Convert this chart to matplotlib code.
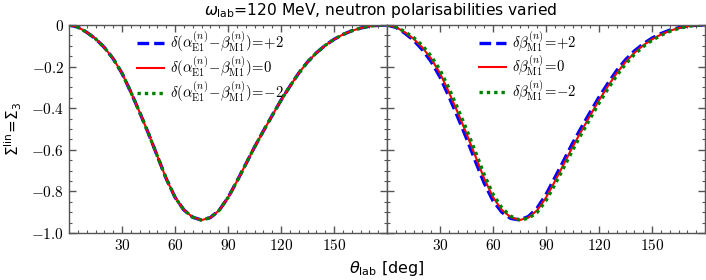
import numpy as np
import matplotlib
matplotlib.use("Agg")
from matplotlib import pyplot as plt
from matplotlib.ticker import MultipleLocator

# Sigma_3 vs theta_lab, omega_lab = 120 MeV
theta = [0, 5, 10, 15, 20, 25, 30, 35, 40, 45, 50, 55, 60, 65, 70, 75, 80, 85, 90,
         95, 100, 105, 110, 115, 120, 125, 130, 135, 140, 145, 150, 155, 160, 165,
         170, 175, 180]

sigma_zero = [0, -0.010, -0.035, -0.066, -0.108, -0.162, -0.232, -0.322, -0.420, -0.522,
              -0.630, -0.738, -0.828, -0.889, -0.924, -0.938, -0.926, -0.891, -0.830,
              -0.752, -0.670, -0.587, -0.510, -0.435, -0.362, -0.295, -0.232, -0.178,
              -0.134, -0.098, -0.069, -0.046, -0.028, -0.015, -0.006, -0.0015, 0]

# left panel: delta(alpha-beta) = +2 / 0 / -2  (indistinguishable)
left_plus2 = sigma_zero
left_zero = sigma_zero
left_minus2 = sigma_zero

# right panel: delta beta = +2 / 0 / -2
right_plus2 = [0, -0.0114, -0.039, -0.073, -0.119, -0.176, -0.250, -0.343, -0.442, -0.545,
               -0.654, -0.760, -0.845, -0.900, -0.930, -0.937, -0.921, -0.880, -0.815,
               -0.734, -0.652, -0.569, -0.493, -0.419, -0.347, -0.281, -0.219, -0.167,
               -0.125, -0.091, -0.063, -0.0415, -0.0246, -0.013, -0.0051, -0.0013, 0]
right_zero = sigma_zero
right_minus2 = [0, -0.0088, -0.0316, -0.060, -0.098, -0.150, -0.216, -0.303, -0.400, -0.501,
                -0.608, -0.718, -0.813, -0.879, -0.919, -0.937, -0.930, -0.901, -0.844,
                -0.768, -0.6865, -0.603, -0.525, -0.450, -0.376, -0.308, -0.244, -0.188,
                -0.142, -0.1045, -0.074, -0.050, -0.031, -0.0168, -0.0068, -0.0017, 0]

left_labels = [r'$\delta(\alpha^{(n)}_{\rm E1}\!-\!\beta^{(n)}_{\rm M1})\!=\!{+}2$',
               r'$\delta(\alpha^{(n)}_{\rm E1}\!-\!\beta^{(n)}_{\rm M1})\!=\!0$',
               r'$\delta(\alpha^{(n)}_{\rm E1}\!-\!\beta^{(n)}_{\rm M1})\!=\!{-}2$']
right_labels = [r'$\delta\beta^{(n)}_{\rm M1}\!=\!{+}2$',
                r'$\delta\beta^{(n)}_{\rm M1}\!=\!0$',
                r'$\delta\beta^{(n)}_{\rm M1}\!=\!{-}2$']

xticks = [30, 60, 90, 120, 150]
yticks = [0, -0.2, -0.4, -0.6, -0.8, -1.0]
ytick_labels = ['$0$', '$-0.2$', '$-0.4$', '$-0.6$', '$-0.8$', '$-1.0$']

fig = plt.figure(figsize=(7.06, 2.80), dpi=100)
W = 318 / 706
ax1 = fig.add_axes([69 / 706, 1 - 233 / 280, W, 208 / 280])
ax2 = fig.add_axes([69 / 706 + W, 1 - 233 / 280, W, 208 / 280])

spine_col = '#555555'
for ax, series, labels in [(ax1, (left_plus2, left_zero, left_minus2), left_labels),
                           (ax2, (right_plus2, right_zero, right_minus2), right_labels)]:
    ax.plot(theta, series[0], color='blue', linewidth=2.4, linestyle=(0, (3.5, 1.5)),
            label=labels[0])
    ax.plot(theta, series[1], color='red', linewidth=1.5, label=labels[1])
    ax.plot(theta, series[2], color='green', linewidth=2.4, linestyle=(0, (1, 1.2)),
            label=labels[2])
    ax.set_xlim(0, 180)
    ax.set_ylim(-1, 0)
    ax.set_xticks(xticks, labels=['$%d$' % v for v in xticks])
    ax.xaxis.set_minor_locator(MultipleLocator(5))
    ax.set_yticks(yticks)
    ax.yaxis.set_minor_locator(MultipleLocator(0.05))
    ax.tick_params(which='both', direction='in', top=True, right=True, color=spine_col)
    ax.tick_params(which='major', length=5, width=1)
    ax.tick_params(which='minor', length=2.5, width=0.8)
    for t in ax.get_xticklabels():
        t.set_math_fontfamily('cm')
        t.set_fontsize(11)
    for s in ax.spines.values():
        s.set_color(spine_col)
        s.set_linewidth(1.0)
    leg = ax.legend(loc='upper left', bbox_to_anchor=(0.215, 0.98), frameon=False,
                    fontsize=10.6, handlelength=1.8, handletextpad=0.45,
                    labelspacing=0.0, borderpad=0, borderaxespad=0)
    for t in leg.get_texts():
        t.set_math_fontfamily('cm')

ax1.set_yticklabels(ytick_labels)
for t in ax1.get_yticklabels():
    t.set_math_fontfamily('cm')
    t.set_fontsize(11)
ax2.set_yticklabels([])

ax2.get_legend().set_bbox_to_anchor((0.29, 0.98))

fig.text(381 / 706, 1 - 10 / 280, r'$\omega_{\mathsf{lab}}$=120 MeV, neutron polarisabilities varied',
         ha='center', va='center', fontsize=11.2, math_fontfamily='dejavusans')
fig.text(387 / 706, 1 - 268 / 280, r'$\theta_{\mathsf{lab}}$ [deg]',
         ha='center', va='center', fontsize=11.5, math_fontfamily='dejavusans')
fig.text(13 / 706, 1 - 129 / 280, r'$\Sigma^{\mathsf{lin}}\!=\!\Sigma_{3}$', rotation=90,
         ha='center', va='center', fontsize=11, math_fontfamily='dejavusans')

fig.savefig('out.png', dpi=100)
